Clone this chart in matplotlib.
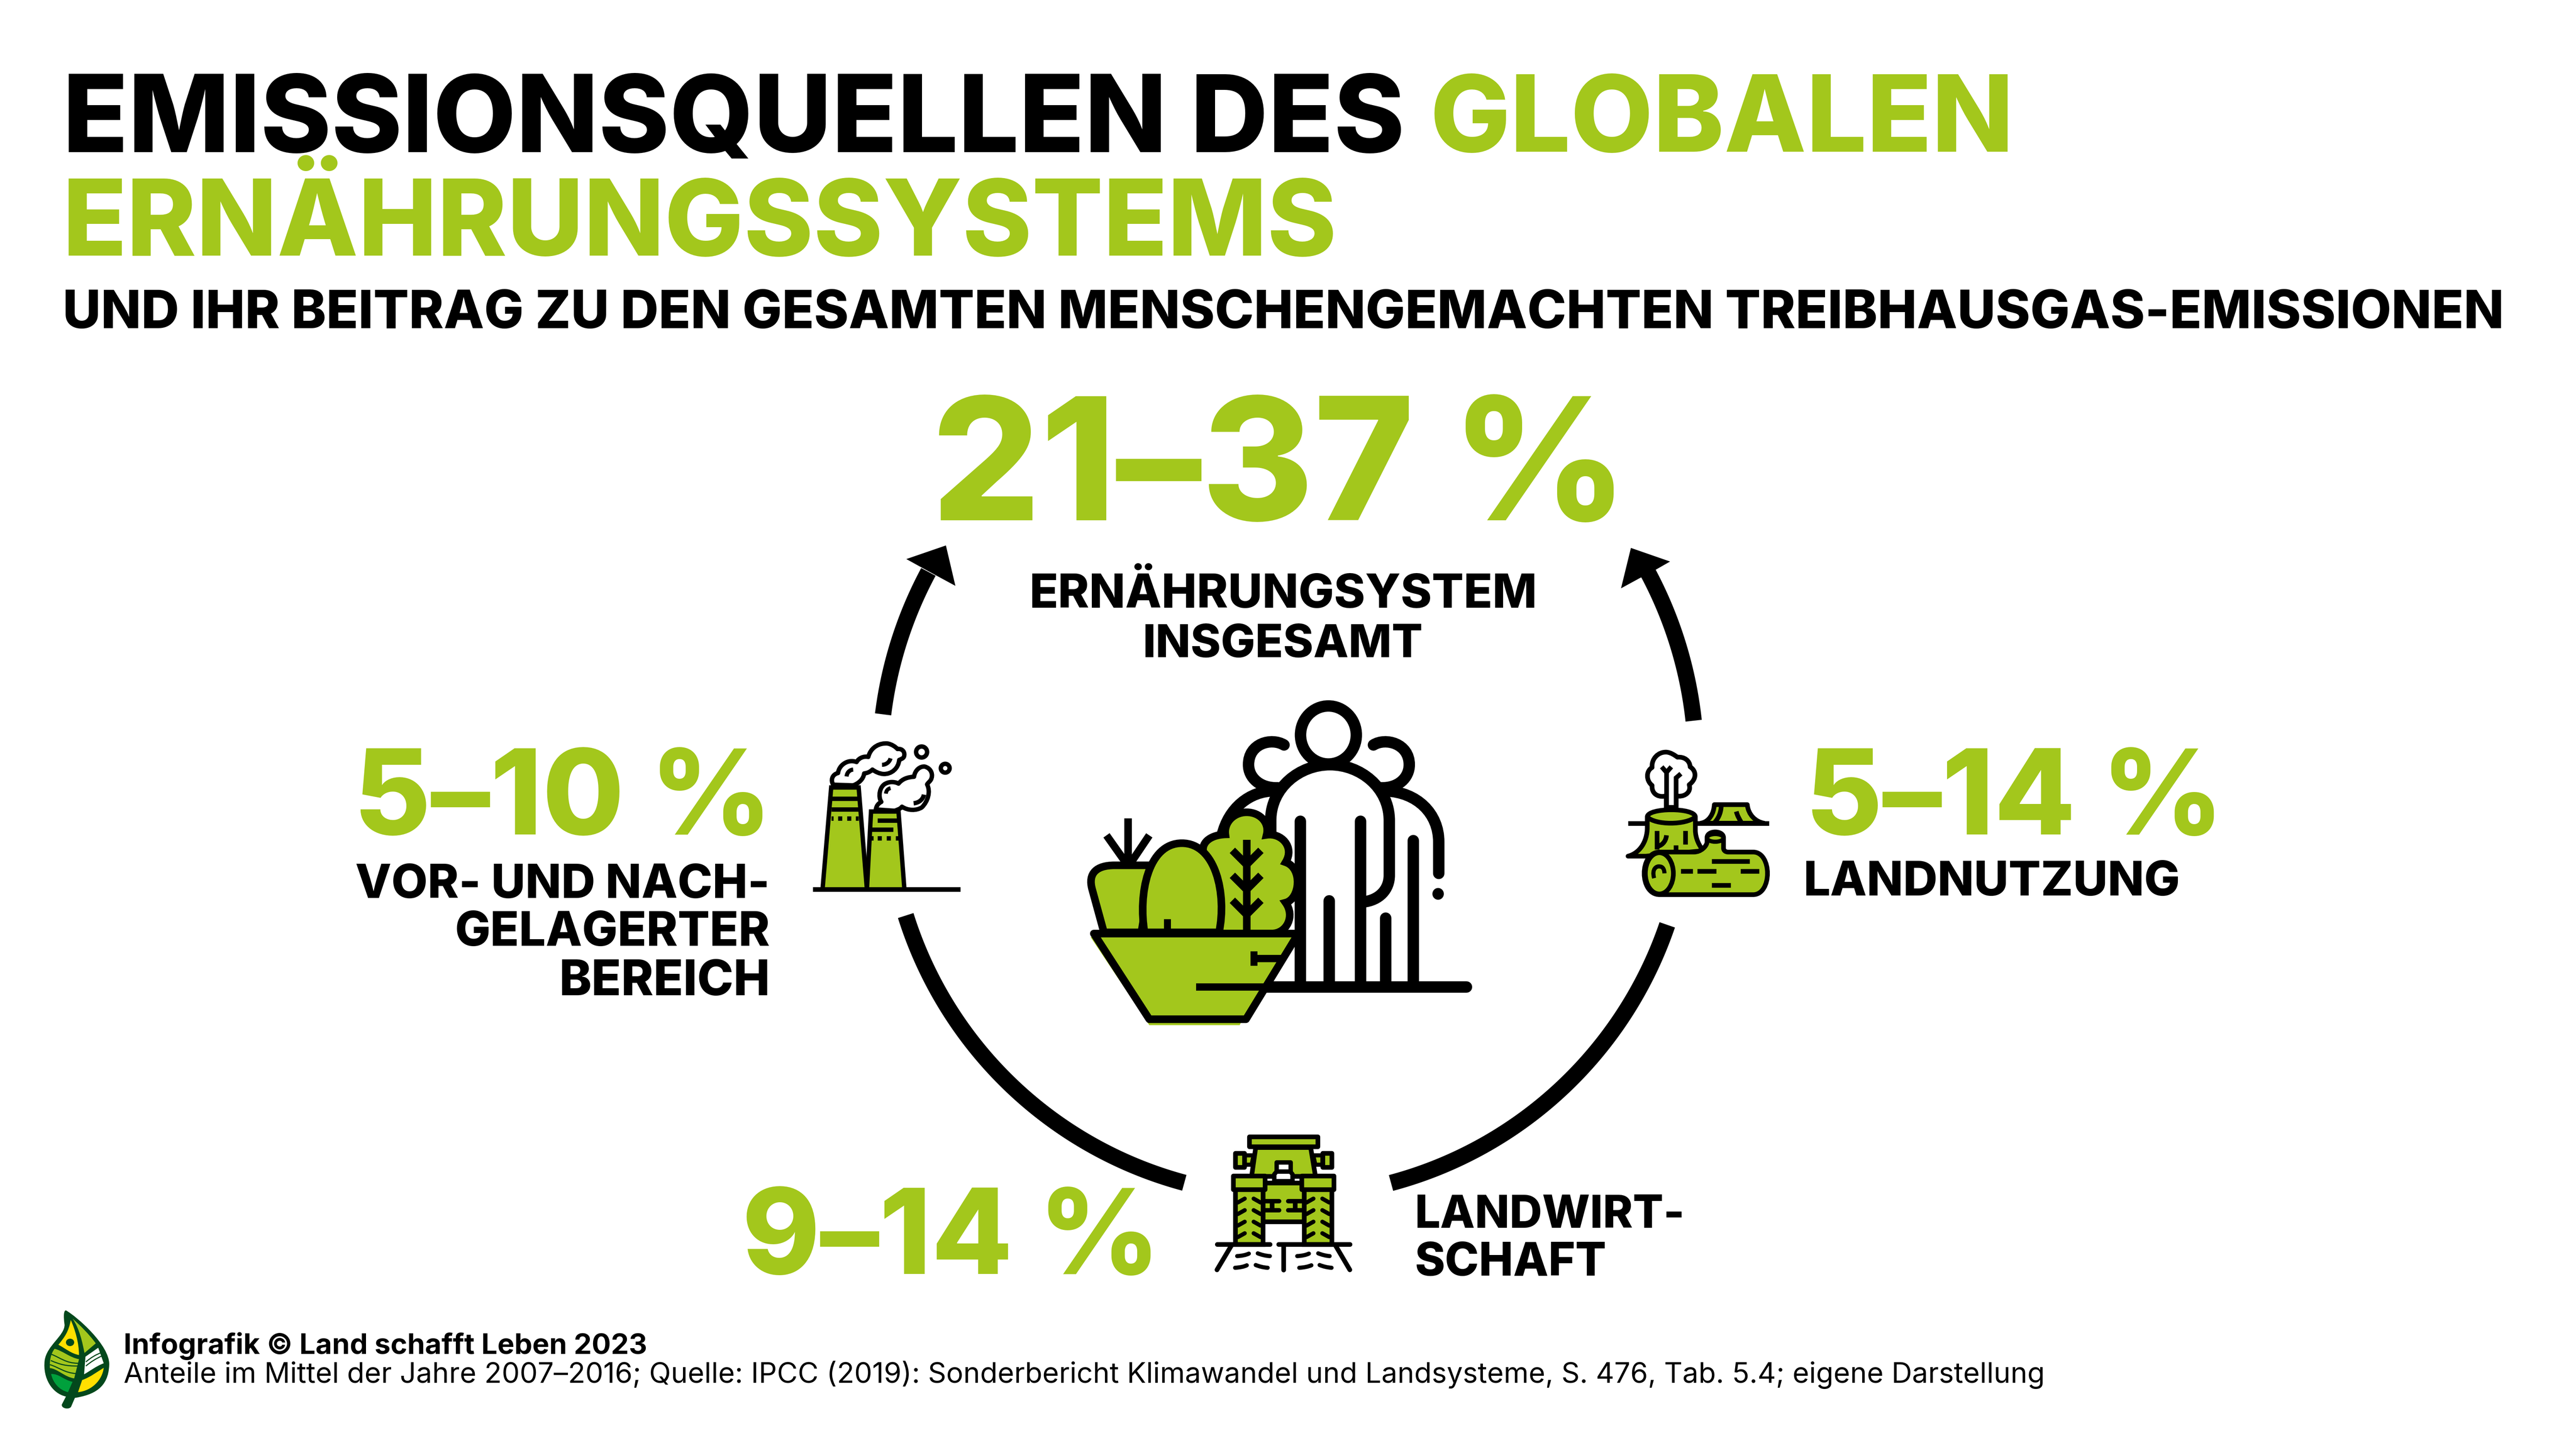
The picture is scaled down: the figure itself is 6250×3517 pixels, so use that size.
import re
import numpy as np
from matplotlib import pyplot as plt
from matplotlib.path import Path
from matplotlib.patches import PathPatch, Ellipse
from matplotlib.transforms import Affine2D

GREEN = '#a3c71c'
DARK = '#03481c'
HEAD_FONT = ['Inter', 'DejaVu Sans']
FOOT_FONT = ['Inter', 'DejaVu Sans']

title_black = 'EMISSIONSQUELLEN DES'
title_green = ['GLOBALEN', 'ERNÄHRUNGSSYSTEMS']
subtitle = 'UND IHR BEITRAG ZU DEN GESAMTEN MENSCHENGEMACHTEN TREIBHAUSGAS-EMISSIONEN'
total_share = '21–37 %'
total_label = ['ERNÄHRUNGSYSTEM', 'INSGESAMT']
shares = ['5–10 %', '5–14 %', '9–14 %']
chain_label = ['VOR- UND NACH-', 'GELAGERTER', 'BEREICH']
land_label = ['LANDNUTZUNG']
farm_label = ['LANDWIRT-', 'SCHAFT']
credit = 'Infografik © Land schafft Leben 2023'
source = 'Anteile im Mittel der Jahre 2007–2016; Quelle: IPCC (2019): Sonderbericht Klimawandel und Landsysteme, S. 476, Tab. 5.4; eigene Darstellung'

W, H = 6250, 3517
fig = plt.figure(figsize=(W / 100, H / 100), dpi=100, facecolor='white')
ax = fig.add_axes([0, 0, 1, 1])
ax.set_xlim(0, W)
ax.set_ylim(H, 0)
ax.axis('off')
renderer = fig.canvas.get_renderer()


def txt(s, x, y, width, color='black', ha='left', weight=800, family=HEAD_FONT):
    """Put text on baseline y and size it so that it is width pixels wide."""
    t = ax.text(x, y, s, color=color, ha=ha, va='baseline', fontsize=100,
                fontweight=weight, family=family)
    w = t.get_window_extent(renderer).width
    t.set_fontsize(100 * width / w)
    return t


def svg(d):
    """Small parser for M/L/C/Z path strings."""
    verts, codes = [], []
    for cmd, args in re.findall(r'([MLCZ])([^MLCZ]*)', d):
        nums = [float(n) for n in args.split()]
        pts = list(zip(nums[0::2], nums[1::2]))
        if cmd == 'M':
            verts += pts; codes += [Path.MOVETO] * len(pts)
        elif cmd == 'L':
            verts += pts; codes += [Path.LINETO] * len(pts)
        elif cmd == 'C':
            verts += pts; codes += [Path.CURVE4] * len(pts)
        else:
            verts.append(verts[0]); codes.append(Path.CLOSEPOLY)
    return Path(verts, codes)


def icon(ox, oy, kx, ky=None):
    """Return draw functions working in the coordinates of one icon."""
    ky = ky or kx
    tr = Affine2D().scale(kx, ky).translate(ox, oy) + ax.transData

    def shape(d, fc='none', lw=34, ec='black', cap='butt', join='miter'):
        ax.add_patch(PathPatch(svg(d), fc=fc, ec=ec if lw else 'none', lw=lw * kx * 0.72,
                               transform=tr, capstyle=cap, joinstyle=join))

    def oval(x, y, rx, ry, fc='none', lw=34, ec='black'):
        ax.add_patch(Ellipse((x, y), 2 * rx, 2 * ry, fc=fc, ec=ec, lw=lw * kx * 0.72, transform=tr))

    return shape, oval


# Title block
txt(title_black, 152, 368, 3258)
txt(title_green[0], 3470, 368, 1417, GREEN)
txt(title_green[1], 152, 620, 3093, GREEN)
txt(subtitle, 152, 796, 5925)

# Big numbers and labels
txt(total_share, 2260, 1262, 1690, GREEN)
txt(total_label[0], 3113, 1474, 1232, ha='center')
txt(total_label[1], 3113, 1594, 680, ha='center')
txt(shares[0], 858, 2024, 1015, GREEN)
txt(chain_label[0], 1868, 2178, 1005, ha='right')
txt(chain_label[1], 1868, 2294, 765, ha='right')
txt(chain_label[2], 1868, 2414, 512, ha='right')
txt(shares[1], 4380, 2024, 1015, GREEN)
txt(land_label[0], 4375, 2172, 915)
txt(shares[2], 1800, 3090, 1015, GREEN)
txt(farm_label[0], 3433, 2978, 655)
txt(farm_label[1], 3433, 3094, 465)

# Footer
txt(credit, 300, 3284, 1270, weight='bold', family=FOOT_FONT)
txt(source, 300, 3354, 4660, weight='normal', family=FOOT_FONT)

# Ring: centre y, radius, start angle, end angle
ring_cx = 3125
ring_arcs = [(1855, 990, 172.9, 151.8), (1855, 990, 6.2, 28.0),
             (1930, 972, 197.4, 255.0), (1930, 972, -18.8, -75.1)]
for ring_cy, r, a0, a1 in ring_arcs:
    a = np.radians(np.linspace(a0, a1, 80))
    ax.plot(ring_cx + r * np.cos(a), ring_cy - r * np.sin(a), color='black', lw=28.5, solid_capstyle='butt')
ax.fill([2199, 2295, 2318, 2270, 2237], [1356, 1323, 1421, 1395, 1377], color='black', lw=0)
ax.fill([3957, 4052, 4010, 3977, 3933], [1329, 1362, 1386, 1403, 1427], color='black', lw=0)

# Centre icon: people behind vegetables in a bowl
s, o = icon(2500, 1650, 1200 / 1560, 900 / 1560)
o(940, 230, 88, 122, lw=36)
s('M 800 272 C 760 240 688 265 688 355 C 688 410 725 455 780 452', lw=36, cap='round')
s('M 1082 272 C 1120 240 1195 265 1195 355 C 1195 410 1160 455 1105 452', lw=36, cap='round')
s('M 605 650 C 625 540 690 465 770 465', lw=36)
s('M 1120 465 C 1220 470 1288 560 1288 680 L 1288 812', lw=36, cap='round')
o(1286, 898, 16, 22, fc='black', lw=4)
s('M 758 650 L 758 590 C 758 450 850 355 945 355 C 1040 355 1132 450 1132 590 L 1132 820 C 1132 880 1100 925 1050 932',
  fc='white', lw=36)
for lx, ly in [(851, 592), (1041, 592), (942, 928), (1121, 1000), (1208, 675)]:
    s(f'M {lx} {ly} L {lx} 1285', lw=36, cap='round')
s('M 740 1290 L 1375 1290', lw=36, cap='round')
s('M 545 720 C 540 680 570 650 615 648 C 610 600 640 555 682 555 C 725 555 755 600 745 650 C 790 640 835 700 805 765 '
  'C 860 790 850 920 805 935 C 835 990 810 1065 760 1065 L 595 1065 Z', fc=GREEN, lw=24)
s('M 682 670 L 682 1050', lw=24)
for ly in [775, 880, 985]:
    s(f'M 637 {ly - 60} L 682 {ly} L 727 {ly - 60}', lw=24)
s('M 232 1060 L 195 880 C 180 810 210 778 265 778 L 385 778 L 350 1060 Z', fc=GREEN, lw=24)
s('M 308 580 L 308 770', lw=24)
s('M 240 652 L 300 765', lw=24)
s('M 375 652 L 318 765', lw=24)
s('M 360 1060 C 340 900 370 685 478 685 C 585 685 620 900 595 1060 Z', fc=GREEN, lw=24)
s('M 432 1003 L 432 1055', lw=22)
s('M 190 1080 L 375 1450 L 660 1450 L 680 1400 L 850 1080 Z', fc=GREEN, lw=0)
s('M 200 1065 L 845 1065 L 680 1425 L 375 1425 Z', fc=GREEN, lw=24, join='round')
s('M 715 1170 L 790 1170', lw=23)
s('M 704 1138 L 704 1200', lw=22)
s('M 523 1290 L 740 1290', lw=23)

# Factory icon
s, o = icon(1950, 1750, 1 / 3)
s('M 137 1222 L 200 480 L 400 480 L 460 1222 Z', fc=GREEN, lw=32)
s('M 205 560 L 395 560', lw=32)
s('M 200 640 L 400 640', lw=32)
for x0, x1 in [(200, 215), (250, 280), (314, 344), (378, 400)]:
    s(f'M {x0} 705 L {x1} 705', lw=32)
s('M 460 1222 L 490 655 L 690 655 L 733 1222 Z', fc=GREEN, lw=32)
s('M 538 720 L 680 720', lw=32)
s('M 495 785 L 650 785', lw=32)
for x0, x1 in [(485, 507), (538, 568), (602, 634), (668, 690)]:
    s(f'M {x0} 850 L {x1} 850', lw=32)
s('M 66 1222 L 1140 1222', lw=34)
s('M 215 460 C 195 430 205 385 250 375 C 255 320 320 270 385 295 C 400 265 440 250 470 258 C 490 180 560 155 610 160 '
  'C 640 165 670 185 682 200 C 720 195 740 225 730 255 C 725 270 705 275 695 280 C 690 340 640 385 580 382 '
  'C 550 380 520 365 500 350 C 480 370 460 375 440 378 C 435 420 400 450 360 465 Z', fc='white', lw=32, join='round')
s('M 360 350 C 335 352 315 370 312 400', lw=30)
s('M 632 268 C 625 295 600 315 570 315', lw=30)
s('M 525 640 C 530 610 545 595 565 585 C 540 550 550 470 600 450 C 630 435 670 440 690 452 C 720 415 760 405 803 402 '
  'C 810 350 850 325 880 328 C 930 340 945 390 925 425 C 915 440 905 445 898 458 C 925 510 905 580 860 625 '
  'C 820 650 760 650 715 620 C 700 640 680 640 665 650 Z', fc='white', lw=32, join='round')
s('M 632 485 C 610 490 600 505 598 525', lw=28)
s('M 875 532 C 870 565 840 592 800 595', lw=32)
o(858, 222, 40, 40, lw=32)
o(1030, 340, 32, 32, lw=32)

# Land use icon
s, o = icon(3950, 1780, 1 / 3)
s('M 0 652 L 130 652', lw=34)
s('M 500 652 L 1025 652', lw=34)
s('M 628 515 L 868 515 C 875 590 930 640 990 650 L 530 650 C 590 640 625 580 628 515 Z', fc=GREEN, lw=34, join='round')
s('M 678 530 C 675 580 655 620 625 650', lw=34)
s('M 788 565 C 795 595 810 620 825 645', lw=34)
s('M 278 535 L 278 450 C 240 465 170 450 175 375 C 130 340 130 270 175 245 C 170 180 220 130 280 133 C 310 135 340 155 360 170 '
  'C 410 165 450 195 452 240 C 500 270 500 330 445 370 C 465 430 400 465 350 450 L 350 535 Z', fc='white', lw=34, join='round')
s('M 280 270 L 280 535', lw=34)
s('M 350 535 L 350 320 L 385 290', lw=34)
s('M 245 240 L 280 280 L 315 240', lw=34)
s('M 140 605 C 140 535 490 535 490 605 L 490 700 C 490 760 520 820 550 850 L 130 890 L 0 890 C 80 870 140 790 140 680 Z', fc=GREEN, lw=34, join='round')
s('M 140 605 C 200 665 420 665 490 605', lw=34)
s('M 210 705 L 210 840', lw=34)
s('M 280 738 C 275 790 240 815 210 820', lw=34)
s('M 418 705 L 418 805', lw=34)
s('M 348 810 L 348 850', lw=34)
s('M 230 1170 C 80 1170 80 860 230 860 L 480 860 C 530 860 570 820 575 790 L 575 755 C 575 700 695 700 695 755 L 695 830 '
  'C 695 850 710 860 730 860 L 910 860 C 1050 860 1050 1170 910 1170 Z', fc=GREEN, lw=34, join='round')
o(228, 1015, 102, 150, fc=GREEN)
o(635, 757, 60, 28, fc=GREEN, lw=30)
s('M 190 1050 C 170 980 210 960 230 965 C 255 965 265 990 265 1015', lw=30)
for x0, x1, ly in [(610, 885, 928), (385, 470, 998), (505, 642, 998), (818, 955, 998), (610, 747, 1100)]:
    s(f'M {x0} {ly} L {x1} {ly}', lw=34)

# Tractor icon
s, o = icon(2900, 2720, 1 / 3)
s('M 440 190 L 840 190 L 875 400 L 410 400 Z', fc=GREEN, lw=34)
s('M 392 112 L 892 112 L 892 182 L 392 182 Z', fc=GREEN, lw=34, join='round')
for m in [False, True]:
    f = (lambda x: 1284 - x) if m else (lambda x: x)
    s(f'M {f(358)} 247 L {f(425)} 247 L {f(410)} 315 L {f(358)} 315 Z', fc=GREEN, lw=30)
    s(f'M {f(358)} 232 L {f(358)} 332', lw=34)
    s(f'M {f(292)} 232 L {f(358)} 232 L {f(358)} 332 L {f(292)} 332 Z', fc=GREEN, lw=34, join='round')
s('M 592 298 L 692 298 L 692 365 L 592 365 Z', fc='white', lw=32, join='round')
s('M 575 435 L 575 385 L 592 365 L 692 365 L 708 385 L 708 435 Z', fc='white', lw=32, join='round')
s('M 492 447 L 792 447 L 792 728 L 492 728 Z', fc=GREEN, lw=34)
for ly in [580, 645]:
    s(f'M 510 {ly} L 610 {ly}', lw=32, cap='round')
    s(f'M 675 {ly} L 775 {ly}', lw=32, cap='round')
s('M 558 590 L 558 640', lw=34)
s('M 727 590 L 727 640', lw=34)
for dx in [0, 500]:
    s(f'M {292 + dx} 490 L {492 + dx} 490 L {492 + dx} 895 L {292 + dx} 895 Z', fc=GREEN, lw=34)
    s(f'M {275 + dx} 397 L {507 + dx} 397 L {507 + dx} 495 L {275 + dx} 495 Z', fc=GREEN, lw=34, join='round')
    for dy in [0, 84, 168, 252]:
        s(f'M {310 + dx} {590 + dy} L {360 + dx} {562 + dy}', lw=30, cap='round')
        s(f'M {475 + dx} {590 + dy} L {425 + dx} {562 + dy}', lw=30, cap='round')
s('M 158 893 L 543 893', lw=34, cap='round')
s('M 607 893 L 1125 893', lw=34, cap='round')
s('M 262 905 L 158 1080', lw=34, cap='round')
s('M 642 905 L 642 1080', lw=34, cap='round')
s('M 1022 905 L 1125 1080', lw=34, cap='round')
for x0, y0, x1, y1 in [(305, 980, 390, 962), (742, 980, 827, 962), (290, 1065, 375, 1047), (757, 1065, 845, 1047)]:
    s(f'M {x0} {y0} C {x0 + 35} {y0 - 2} {x0 + 65} {y0 - 8} {x1} {y1}', lw=30, cap='round')
for x0, y0, x1, y1 in [(455, 960, 543, 980), (895, 960, 978, 980), (440, 1045, 527, 1065), (905, 1045, 992, 1065)]:
    s(f'M {x0} {y0} C {x0 + 25} {y0 + 10} {x0 + 55} {y0 + 18} {x1} {y1}', lw=30, cap='round')

# Logo
s, o = icon(60, 3150, 1 / 3)
s('M 300 85 C 380 130 620 340 615 480 C 610 650 500 700 365 722 L 338 785 C 325 810 265 800 270 770 L 300 712 '
  'C 200 690 130 580 145 450 C 160 340 290 270 290 190 C 280 120 285 85 300 85 Z', fc=DARK, lw=0)
s('M 335 155 C 320 240 290 280 245 335 C 300 365 340 400 395 410 C 395 320 365 220 335 155 Z', fc='#ffe000', lw=0)
o(330, 318, 30, 27, fc=DARK, lw=0, ec='none')
s('M 348 145 C 400 220 420 320 435 395 L 517 325 C 470 260 400 190 348 145 Z', fc=GREEN, lw=0)
s('M 217 365 C 270 375 330 430 395 440 L 360 580 C 290 570 240 510 183 505 C 180 450 190 400 217 365 Z', fc=GREEN, lw=0)
s('M 195 405 C 260 430 300 470 390 470', lw=8, ec=DARK)
s('M 190 450 C 260 480 300 490 385 490', lw=8, ec=DARK)
s('M 183 480 C 250 500 290 540 375 545', lw=8, ec=DARK)
s('M 192 548 C 250 545 280 590 348 605 L 315 680 C 250 665 205 610 192 548 Z', fc='#00a03c', lw=0)
s('M 442 422 L 535 357 L 575 470 C 520 490 470 530 432 550 Z', fc='white', lw=0)
s('M 445 460 C 480 430 520 405 560 392', lw=8, ec=DARK)
s('M 445 490 C 480 460 520 435 565 415', lw=8, ec=DARK)
s('M 418 592 C 480 570 530 530 575 503 C 565 590 490 670 388 680 Z', fc='#ffe000', lw=0)

fig.savefig('out.png', dpi=100, facecolor='white')
